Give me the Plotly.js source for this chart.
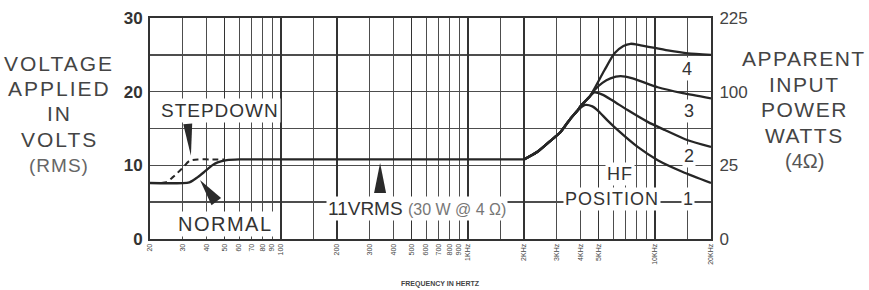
<!DOCTYPE html>
<html><head><meta charset="utf-8">
<script src="https://cdn.plot.ly/plotly-3.0.1.min.js"></script>
<style>html,body{margin:0;padding:0;background:#fff;} #chart{width:869px;height:290px;}</style>
</head><body><div id="chart"></div>
<script>
// ---------- data ----------
const normalFreq  = [20, 32.5, 36, 39, 43, 46, 51.5, 60, 100, 1000, 2000];
const normalVolts = [7.6, 7.7, 8.4, 9.1, 10.0, 10.4, 10.7, 10.8, 10.8, 10.8, 10.8];

const stepFreq  = [23, 24.5, 26.5, 29.5, 32.5, 36, 43, 50];
const stepVolts = [7.6, 7.7, 8.4, 9.5, 10.6, 10.8, 10.8, 10.8];

const hf1Freq  = [2000, 2350, 2760, 3130, 3535, 3855, 4255, 4640, 4935, 5585, 6325, 8105, 10380, 14140, 20000];
const hf1Volts = [10.8, 11.8, 13.3, 14.5, 16.3, 17.4, 18.2, 18.0, 17.5, 16.1, 14.8, 12.5, 10.7, 9.1, 7.6];

const hf2Freq  = [2000, 2350, 2760, 3130, 3535, 3855, 4000, 4480, 4755, 5250, 5945, 7160, 9170, 11320, 15040, 20000];
const hf2Volts = [10.8, 11.8, 13.3, 14.5, 16.3, 17.4, 18.0, 19.3, 19.9, 19.6, 18.8, 17.5, 15.9, 14.8, 13.4, 12.5];

const hf3Freq  = [2000, 2350, 2760, 3130, 3535, 3855, 4000, 4480, 4755, 5250, 5800, 6565, 7620, 10380, 14140, 20000];
const hf3Volts = [10.8, 11.8, 13.3, 14.5, 16.3, 17.4, 18.0, 19.3, 20.2, 21.2, 21.8, 22.1, 21.8, 20.6, 19.8, 19.1];

const hf4Freq  = [2000, 2350, 2760, 3130, 3535, 3855, 4000, 4480, 4755, 5385, 6095, 6800, 7430, 8410, 11750, 15040, 20000];
const hf4Volts = [10.8, 11.8, 13.3, 14.5, 16.3, 17.4, 18.0, 19.3, 20.4, 22.9, 25.2, 26.2, 26.5, 26.3, 25.6, 25.2, 25.0];

const xTickVals = [20,30,40,50,60,70,80,90,100,200,300,400,500,600,700,800,900,1000,2000,3000,4000,5000,10000,20000];
const xTickText = ['20','30','40','50','60','70','80','90','100','200','300','400','500','600','700','800','900','1KHz','2KHz','3KHz','4KHz','5KHz','10KHz','20KHz'];
const xMinorGrid = [150, 1500, 6000, 7000, 8000, 9000, 15000];
const xHeavyGrid = [50, 100, 200, 500, 1000, 2000, 5000, 10000];

const voltTicks = [0, 10, 20, 30];
const voltText  = ['0', '10', '20', '30'];
const wattText  = ['0', '25', '100', '225'];
const voltMinor = [5, 15, 25];

// ---------- geometry helpers for decorations ----------
const ML = 150, MR = 158, MT = 18, MB = 51, W = 869, H = 290;
const PW = W - ML - MR, PH = H - MT - MB;
const LX0 = Math.log10(20), LX1 = Math.log10(20000);
function toPx(f, v) { return [(Math.log10(f) - LX0) / (LX1 - LX0) * PW, (1 - v / 30) * PH]; }
function wedge(f, v, dx, dy, len, hw) {
  const [tx, ty] = toPx(f, v);
  const n = Math.hypot(dx, dy), ux = dx / n, uy = dy / n;
  const bx = tx + ux * len, by = ty + uy * len;
  const px = -uy, py = ux;
  const pts = [[tx, ty], [bx + px * hw, by + py * hw], [bx - px * hw, by - py * hw]];
  const s = pts.map(p => (p[0] / PW).toFixed(5) + ',' + (1 - p[1] / PH).toFixed(5));
  return {type: 'path', xref: 'paper', yref: 'paper', path: 'M' + s[0] + 'L' + s[1] + 'L' + s[2] + 'Z',
          fillcolor: '#2a2a2a', line: {width: 0}, layer: 'above'};
}

const lineStyle = {color: '#262626', width: 2.3, shape: 'spline', smoothing: 0.6};
const traces = [
  {x: normalFreq, y: normalVolts, mode: 'lines', line: lineStyle, hoverinfo: 'skip'},
  {x: stepFreq, y: stepVolts, mode: 'lines', line: Object.assign({}, lineStyle, {dash: '6px,4px', width: 2}), hoverinfo: 'skip'},
  {x: hf1Freq, y: hf1Volts, mode: 'lines', line: lineStyle, hoverinfo: 'skip'},
  {x: hf2Freq, y: hf2Volts, mode: 'lines', line: lineStyle, hoverinfo: 'skip'},
  {x: hf3Freq, y: hf3Volts, mode: 'lines', line: lineStyle, hoverinfo: 'skip'},
  {x: hf4Freq, y: hf4Volts, mode: 'lines', line: lineStyle, hoverinfo: 'skip'},
  {x: [20], y: [null], xaxis: 'x2', yaxis: 'y2', mode: 'lines', hoverinfo: 'skip'}
];

const FONT = 'Liberation Sans, Arial, Helvetica, sans-serif';
function inner(text, f, v, size, color, extra) {
  return Object.assign({text: text, xref: 'x', yref: 'y', x: Math.log10(f), y: v, showarrow: false,
    font: {family: FONT, size: size, color: color}, bgcolor: '#ffffff', borderpad: 1}, extra || {});
}
function outer(text, px, py, size, color) {
  return {text: text, xref: 'paper', yref: 'paper', x: (px - ML) / PW, y: (H - MB - py) / PH,
    showarrow: false, xanchor: 'center', yanchor: 'middle', font: {family: FONT, size: size, color: color}};
}
const sp = (t, ls) => '<span style="letter-spacing:' + ls + 'px">' + t + '</span>';

const annotations = [
  inner(sp('STEPDOWN', 1), 47.3, 17.4, 19, '#333'),
  inner(sp('NORMAL', 1.5), 50.9, 2.0, 20, '#333'),
  inner('11VRMS <span style="font-size:16px;color:#777">(30 W @ 4 Ω)</span>', 536, 4.2, 19, '#333'),
  inner(sp('HF', 1), 6520, 8.8, 18, '#333'),
  inner(sp('POSITION', 1), 5920, 5.4, 18, '#333'),
  inner('1', 15070, 5.4, 18, '#333'),
  inner('2', 15200, 11.3, 18, '#333'),
  inner('3', 15200, 17.4, 18, '#333'),
  inner('4', 14900, 23.1, 18, '#333'),
  outer(sp('VOLTAGE', 2), 59, 63, 21, '#444'),
  outer(sp('APPLIED', 2), 59, 88, 21, '#444'),
  outer(sp('IN', 2), 59, 113, 21, '#444'),
  outer(sp('VOLTS', 2), 59, 139, 21, '#444'),
  outer(sp('(RMS)', 1), 59, 165, 19, '#666'),
  outer(sp('APPARENT', 1.5), 804, 58, 21, '#444'),
  outer(sp('INPUT', 1.5), 804, 84, 21, '#444'),
  outer(sp('POWER', 1.5), 804, 110, 21, '#444'),
  outer(sp('WATTS', 1.5), 804, 135, 21, '#444'),
  outer('(4Ω)', 804, 161, 20, '#555'),
  outer('<b>FREQUENCY IN HERTZ</b>', 440, 284, 7, '#444')
];

const shapes = [
  wedge(33.1, 11.3, -0.1, -1, 32, 4.5),
  wedge(37, 8.0, 16, 21, 27, 6),
  wedge(340, 10.3, 0, 1, 30, 6)
];

const gridC = '#4d4d4d';
const layout = {
  width: W, height: H, margin: {l: ML, r: MR, t: MT, b: MB, pad: 0},
  paper_bgcolor: '#ffffff', plot_bgcolor: '#ffffff', showlegend: false,
  font: {family: FONT, color: '#333'},
  xaxis: {type: 'log', range: [LX0, LX1], tickmode: 'array', tickvals: xTickVals, ticktext: xTickText,
    tickangle: -90, tickfont: {size: 7, color: '#444'}, ticks: '', showgrid: true, gridcolor: gridC, gridwidth: 1.1,
    minor: {tickmode: 'array', tickvals: xMinorGrid, showgrid: true, gridcolor: gridC, gridwidth: 1.1, ticks: ''},
    showline: true, linecolor: '#333', linewidth: 2, mirror: true, zeroline: false, fixedrange: true},
  xaxis2: {type: 'log', range: [LX0, LX1], overlaying: 'x', tickmode: 'array', tickvals: xHeavyGrid,
    showticklabels: false, ticks: '', showgrid: true, gridcolor: '#333', gridwidth: 1.8, showline: false, zeroline: false},
  yaxis: {range: [0, 30], tickmode: 'array', tickvals: voltTicks, ticktext: voltText, ticks: '',
    tickfont: {size: 17, color: '#333', weight: 'bold'}, showgrid: true, gridcolor: gridC, gridwidth: 1.4,
    minor: {tickmode: 'array', tickvals: voltMinor, showgrid: true, gridcolor: gridC, gridwidth: 1.4, ticks: ''},
    showline: true, linecolor: '#333', linewidth: 2, zeroline: false, ticklabelstandoff: 2},
  yaxis2: {range: [0, 30], overlaying: 'y', side: 'right', tickmode: 'array', tickvals: voltTicks, ticktext: wattText,
    ticks: '', tickfont: {size: 17, color: '#444'}, showgrid: false, showline: true, linecolor: '#333', linewidth: 2,
    zeroline: false, ticklabelstandoff: 3},
  annotations: annotations,
  shapes: shapes
};

Plotly.newPlot('chart', traces, layout, {staticPlot: true, displayModeBar: false});
</script></body></html>
